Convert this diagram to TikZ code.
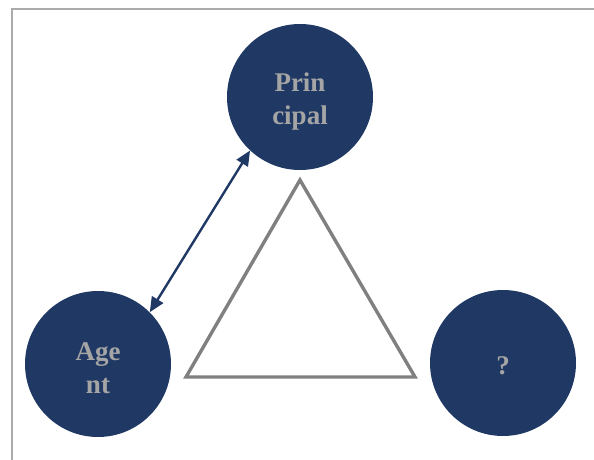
\documentclass[tikz,border=0pt]{standalone}
\usepackage{fontspec}
\setmainfont{Liberation Serif}
\usetikzlibrary{arrows.meta}
\definecolor{navy}{HTML}{1F3864}
\definecolor{labelgray}{HTML}{A5A5A5}
\definecolor{framegray}{HTML}{ABABAB}
\definecolor{trigray}{HTML}{808080}
\tikzset{
  party/.style={circle, fill=navy, minimum size=146pt, inner sep=0pt},
  partytext/.style={text=labelgray, font=\fontsize{27}{33}\selectfont\bfseries,
    align=center, inner sep=0pt},
  link/.style={draw=navy, line width=2.4pt,
    {Triangle[length=15pt,width=13pt]}-{Triangle[length=15pt,width=13pt]}},
  tri/.style={draw=trigray, line width=3.4pt},
  frame/.style={draw=framegray, line width=1.5pt}
}
\begin{document}
\begin{tikzpicture}[x=1pt,y=-1pt]
  \useasboundingbox (0,0) rectangle (594,460);
  % outer frame edges
  \coordinate (ftl) at (12,9);
  \coordinate (ftr) at (594,9);
  \coordinate (fbl) at (12,460);
  \draw[frame] (fbl) -- (ftl) -- (ftr);
  % the three parties
  \node[party] (principal) at (300,97) {};
  \node[party] (agent) at (98,364) {};
  \node[party] (unknown) at (503,363) {};
  \node[partytext, yshift=-5pt] (principaltext) at (principal) {Prin\\cipal};
  \node[partytext, yshift=-4pt] (agenttext) at (agent) {Age\\nt};
  \node[partytext, yshift=-3pt] (unknowntext) at (unknown) {?};
  % central triangle
  \coordinate (ta) at (300,180);
  \coordinate (tl) at (186,377);
  \coordinate (tr) at (415,377);
  \draw[tri, line join=miter] (ta) -- (tl) -- (tr) -- cycle;
  % agency relation
  \draw[link] (agent.45) -- (principal.227);
\end{tikzpicture}
\end{document}
